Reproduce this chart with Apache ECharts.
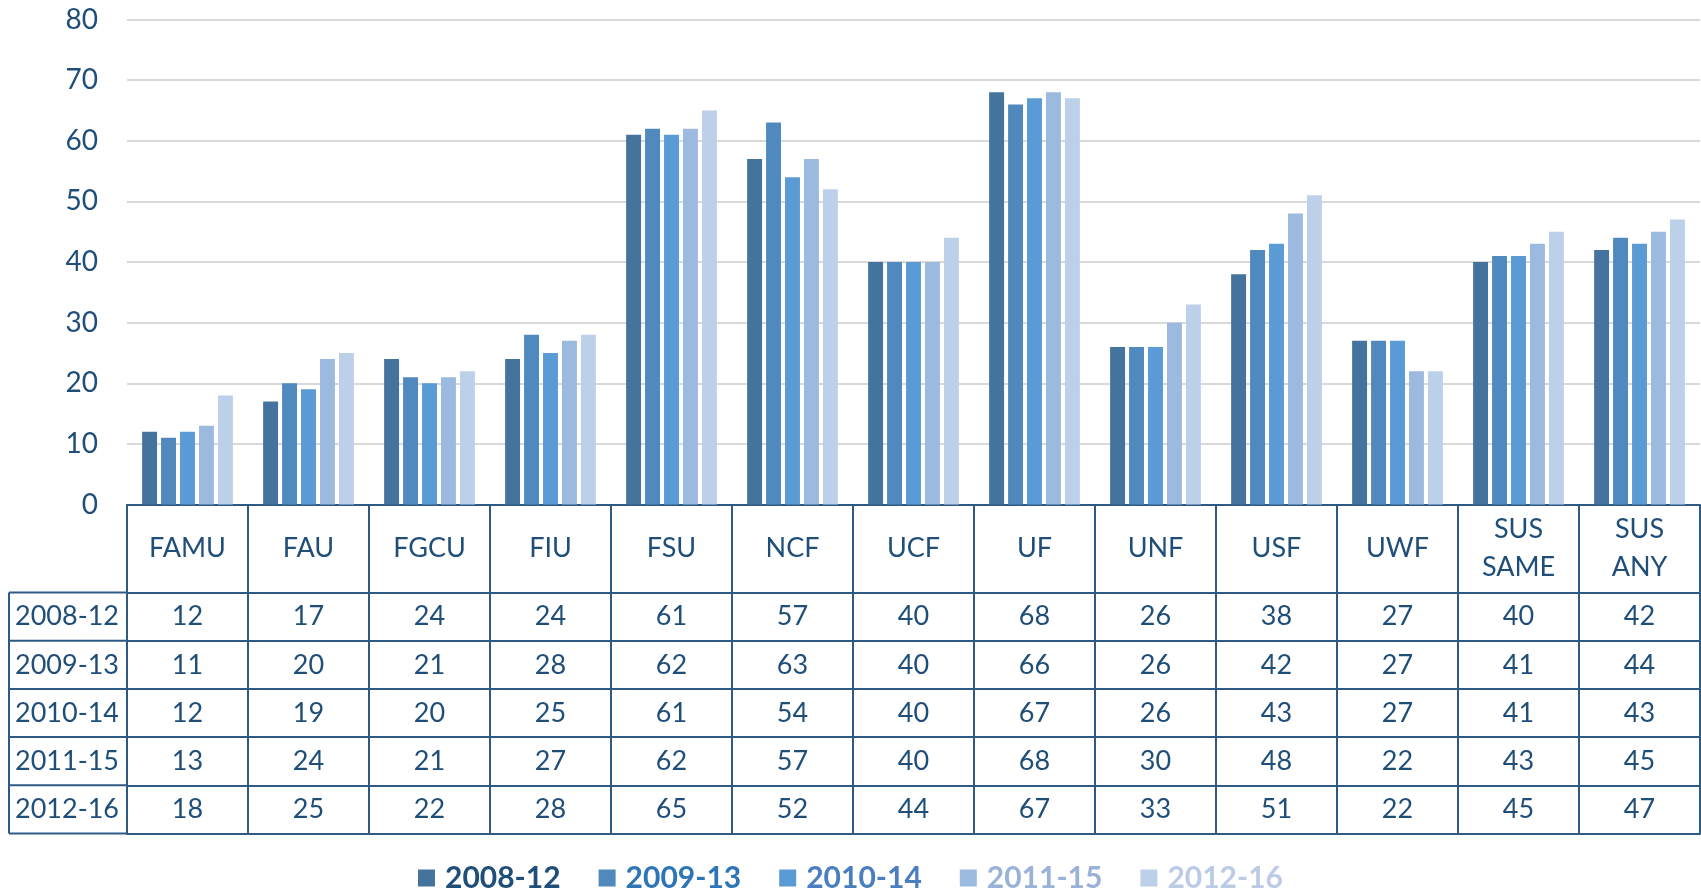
<!DOCTYPE html>
<html>
<head>
<meta charset="utf-8">
<script src="https://cdn.jsdelivr.net/npm/echarts@6/dist/echarts.min.js"></script>
<style>
html,body{margin:0;padding:0;background:#fff;}
#chart{width:1701px;height:890px;}
</style>
</head>
<body>
<div id="chart"></div>
<script>
const categories = ['FAMU','FAU','FGCU','FIU','FSU','NCF','UCF','UF','UNF','USF','UWF','SUS\nSAME','SUS\nANY'];
const seriesNames = ['2008-12','2009-13','2010-14','2011-15','2012-16'];
const s2008 = [12,17,24,24,61,57,40,68,26,38,27,40,42];
const s2009 = [11,20,21,28,62,63,40,66,26,42,27,41,44];
const s2010 = [12,19,20,25,61,54,40,67,26,43,27,41,43];
const s2011 = [13,24,21,27,62,57,40,68,30,48,22,43,45];
const s2012 = [18,25,22,28,65,52,44,67,33,51,22,45,47];
const yTicks = [0,10,20,30,40,50,60,70,80];

const seriesValues = [s2008,s2009,s2010,s2011,s2012];
const barColors = ['#44739E','#4F89BD','#5B9BD5','#9CB9DF','#BDD0EA'];
const legendTextColors = ['#1F4E79','#2E75B6','#4A7EBE','#9AB2D8','#BCCBE5'];
const textColor = '#1F4E79';
const lineColor = '#2F5A85';
const FONT = 'Lato';

const gridLeft = 127, gridTop = 19.5, axisY = 504.5;
const headerH = 88, rowH = 48.2;
const tableLeft = 9;

const chart = echarts.init(document.getElementById('chart'));

const xAxes = [{
  type:'category', data:categories, gridIndex:0, position:'bottom',
  axisLine:{show:true, lineStyle:{color:lineColor, width:2}},
  axisTick:{show:true, length:headerH, lineStyle:{color:lineColor, width:2}},
  axisLabel:{color:textColor, fontFamily:FONT, fontSize:27, lineHeight:38, margin:headerH/2, verticalAlign:'middle', interval:0}
}];
seriesNames.forEach((nm, i) => {
  const vals = seriesValues[i];
  xAxes.push({
    type:'category', data:categories, gridIndex:0, position:'bottom',
    offset: headerH + rowH*i,
    name: nm, nameLocation:'start', nameGap: 8,
    nameTextStyle:{color:textColor, fontFamily:FONT, fontSize:27, verticalAlign:'top', align:'right', lineHeight:rowH},
    axisLine:{show:true, lineStyle:{color:lineColor, width:2}},
    axisTick:{show:true, length:rowH, lineStyle:{color:lineColor, width:2}},
    axisLabel:{color:textColor, fontFamily:FONT, fontSize:27, margin:rowH/2, verticalAlign:'middle', interval:0,
      formatter:(v, idx) => String(vals[idx])}
  });
});
xAxes.push({
  type:'category', data:categories, gridIndex:0, position:'bottom',
  offset: headerH + rowH*5,
  axisLine:{show:true, lineStyle:{color:lineColor, width:2}},
  axisTick:{show:false}, axisLabel:{show:false}
});

const graphics = [];
const tableTop = axisY + headerH;
graphics.push({type:'line', shape:{x1:tableLeft, y1:tableTop, x2:tableLeft, y2:tableTop + rowH*5}, style:{stroke:lineColor, lineWidth:2}});
for (let i = 0; i <= 5; i++) {
  const y = tableTop + rowH*i;
  graphics.push({type:'line', shape:{x1:tableLeft, y1:y, x2:gridLeft, y2:y}, style:{stroke:lineColor, lineWidth:2}});
}

const option = {
  animation:false,
  backgroundColor:'#fff',
  color: barColors,
  grid:{left:gridLeft, right:1, top:gridTop, bottom:890-axisY, containLabel:false},
  legend:{
    data: seriesNames.map((n,i)=>({name:n, textStyle:{color:legendTextColors[i]}})),
    top: 858, left:'center', itemWidth:17, itemHeight:17, itemGap:38, icon:'rect',
    textStyle:{fontFamily:FONT, fontSize:30, fontWeight:'bold', padding:[0,0,0,5]}
  },
  xAxis: xAxes,
  yAxis:{
    type:'value', min:yTicks[0], max:yTicks[yTicks.length-1], interval:10,
    axisLine:{show:false}, axisTick:{show:false},
    axisLabel:{color:textColor, fontFamily:FONT, fontSize:28, margin:29},
    splitLine:{lineStyle:{color:'#D9D9D9', width:2}}
  },
  series: seriesNames.map((n,i)=>({
    name:n, type:'bar', xAxisIndex:0, data:seriesValues[i],
    barGap:'27%', barCategoryGap:'25%',
    itemStyle:{color:barColors[i]}
  })),
  graphic: graphics
};
chart.setOption(option);
</script>
</body>
</html>
